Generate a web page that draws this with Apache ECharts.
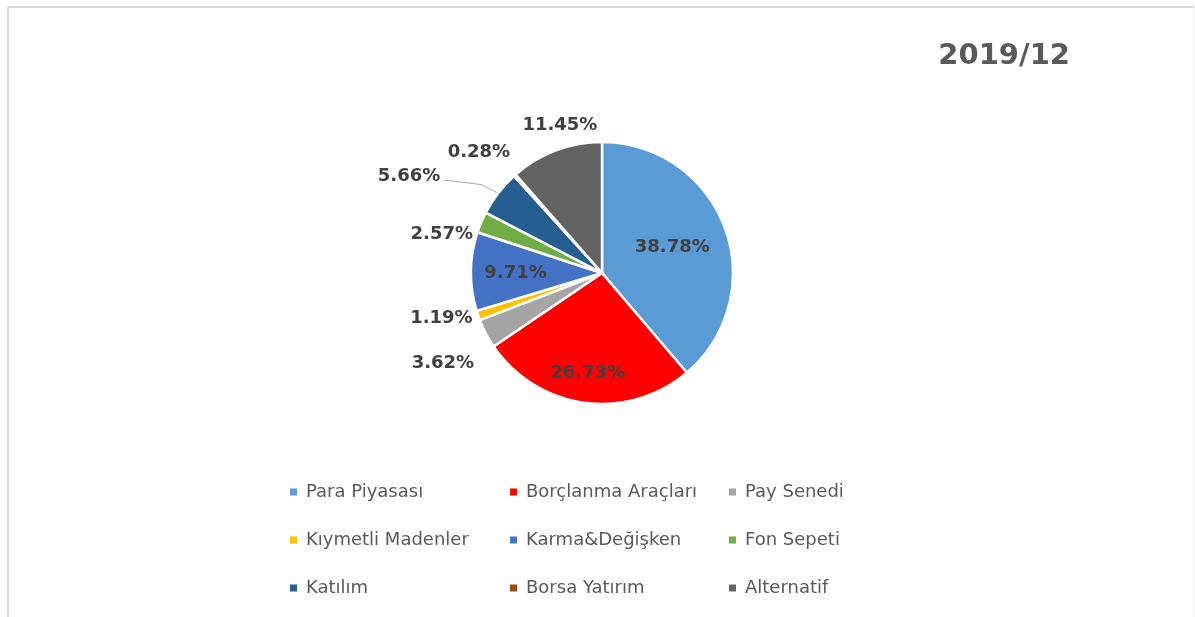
<!DOCTYPE html>
<html>
<head>
<meta charset="utf-8">
<script src="https://cdn.jsdelivr.net/npm/echarts@6/dist/echarts.min.js"></script>
<style>
html,body{margin:0;padding:0;background:#fff;}
#main{width:1195px;height:617px;}
</style>
</head>
<body>
<div id="main"></div>
<script>
const title = "2019/12";
const categories = ["Para Piyasası","Borçlanma Araçları","Pay Senedi","Kıymetli Madenler","Karma&Değişken","Fon Sepeti","Katılım","Borsa Yatırım","Alternatif"];
const values = [38.78, 26.73, 3.62, 1.19, 9.71, 2.57, 5.66, 0.28, 11.45];
const colors = ["#5B9BD5","#FF0000","#A5A5A5","#FFC000","#4472C4","#70AD47","#255E91","#9E480E","#636363"];
const insideLabels = [0, 1, 4];
const legendColumns = [
  ["Para Piyasası","Kıymetli Madenler","Katılım"],
  ["Borçlanma Araçları","Karma&Değişken","Borsa Yatırım"],
  ["Pay Senedi","Fon Sepeti","Alternatif"]
];
const legendLeft = [283, 503, 722];
// label nudges (style only), per slice index
const labelNudge = {0:[6,-2],1:[-5,32],2:[2,25],3:[9,0],4:[-18,1],5:[6,16],6:[-45,-11],7:[7,-15],8:[50,-16]};

const FONT = "'DejaVu Sans', 'Open Sans', sans-serif";

const data = categories.map((name, i) => {
  const inside = insideLabels.includes(i);
  return {
    name: name,
    value: values[i],
    itemStyle: { color: colors[i] },
    label: inside ? { position: 'inside' } : { position: 'outside' },
    labelLine: { show: i === 6 }
  };
});

const chart = echarts.init(document.getElementById('main'), null, { renderer: 'canvas' });
chart.setOption({
  animation: false,
  backgroundColor: '#ffffff',
  title: {
    text: title,
    right: 120,
    top: 37,
    textStyle: { fontFamily: FONT, fontSize: 29, fontWeight: 'bold', color: '#595959' }
  },
  legend: legendColumns.map((col, k) => ({
    data: col,
    orient: 'vertical',
    left: legendLeft[k],
    top: 478,
    itemGap: 30,
    itemWidth: 9,
    itemHeight: 9,
    icon: 'rect',
    selectedMode: false,
    formatter: n => '{a|' + n + '}',
    textStyle: {
      fontFamily: FONT, fontSize: 18, color: '#595959',
      rich: { a: { fontFamily: FONT, fontSize: 18, color: '#595959', padding: [0, 0, 0, 3] } }
    }
  })),
  graphic: [
    { type: 'line', shape: { x1: 8, y1: 7, x2: 1194, y2: 7 }, style: { stroke: '#d9d9d9', lineWidth: 2 } },
    { type: 'line', shape: { x1: 8, y1: 7, x2: 8, y2: 617 }, style: { stroke: '#d9d9d9', lineWidth: 2 } },
    { type: 'line', shape: { x1: 1194, y1: 7, x2: 1194, y2: 617 }, style: { stroke: '#ececec', lineWidth: 1 } }
  ],
  series: [{
    type: 'pie',
    center: [602, 273],
    radius: [0, 131],
    startAngle: 90,
    clockwise: true,
    avoidLabelOverlap: false,
    itemStyle: { borderColor: '#ffffff', borderWidth: 2.5 },
    label: {
      formatter: p => p.value.toFixed(2) + '%',
      fontFamily: FONT,
      fontSize: 18,
      fontWeight: 'bold',
      color: '#404040'
    },
    labelLine: { length: 10, length2: 0, lineStyle: { color: '#a6a6a6', width: 1 } },
    labelLayout: p => {
      const n = labelNudge[p.dataIndex] || [0,0];
      const out = { dx: n[0], dy: n[1] };
      if (p.dataIndex === 6 && p.labelLinePoints) {
        const a = p.labelLinePoints[0];
        const r = p.labelRect;
        const end = [r.x + r.width + n[0] + 4, r.y + r.height / 2 + n[1] + 4];
        out.labelLinePoints = [a, [(a[0] + end[0]) / 2 + 10, (a[1] + end[1]) / 2 - 2], end];
      }
      return out;
    },
    data: data
  }]
});
</script>
</body>
</html>
